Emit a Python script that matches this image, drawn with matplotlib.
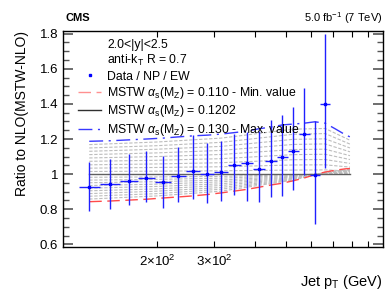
import matplotlib
matplotlib.use('Agg')
import matplotlib.pyplot as plt
from matplotlib.lines import Line2D
from matplotlib.ticker import FixedLocator, NullFormatter, MultipleLocator
import numpy as np

plt.rcParams['font.family'] = ['Liberation Sans', 'DejaVu Sans']
plt.rcParams['mathtext.fontset'] = 'custom'
plt.rcParams['mathtext.rm'] = 'Liberation Sans'
plt.rcParams['mathtext.it'] = 'Liberation Sans:italic'
plt.rcParams['mathtext.bf'] = 'Liberation Sans:bold'

## data: jet pT bins and ratio data / NP / EW
bin_edges = [114, 133, 153, 174, 196, 220, 245, 272, 300, 330, 362, 395,
             430, 468, 507, 548, 592, 638, 686]
ratio = [0.928, 0.941, 0.962, 0.977, 0.953, 0.990, 1.017, 0.998, 1.013,
         1.053, 1.065, 1.031, 1.076, 1.095, 1.132, 1.226, 0.994, 1.402]
ratio_hi = [1.070, 1.084, 1.112, 1.131, 1.106, 1.152, 1.222, 1.178, 1.190,
            1.227, 1.240, 1.244, 1.307, 1.339, 1.382, 1.493, 1.303, 1.800]
ratio_lo = [0.790, 0.800, 0.822, 0.839, 0.809, 0.844, 0.856, 0.837, 0.847,
            0.881, 0.847, 0.840, 0.871, 0.875, 0.909, 0.995, 0.714, 1.034]

## theory curves
theory_pt = [123, 143, 163, 185, 208, 232, 258, 286, 315, 345, 378, 412,
             449, 487, 527, 570, 615, 662, 711, 763, 790]
mstw_110 = [0.843, 0.847, 0.852, 0.857, 0.864, 0.870, 0.876, 0.884, 0.893,
            0.903, 0.913, 0.925, 0.938, 0.948, 0.962, 0.978, 0.997, 1.012,
            1.022, 1.030, 1.032]
mstw_1202 = [1.0, 1.0, 1.0, 1.0, 1.0, 1.0, 1.0, 1.0, 1.0, 1.0, 1.0, 1.0,
             1.0, 1.0, 1.0, 1.0, 1.0, 1.0, 1.0, 1.0, 1.0]
mstw_130 = [1.187, 1.190, 1.195, 1.200, 1.205, 1.212, 1.218, 1.222, 1.228,
            1.236, 1.245, 1.258, 1.268, 1.280, 1.285, 1.290, 1.298, 1.290,
            1.258, 1.225, 1.212]

# intermediate alpha_s values (0.111 ... 0.129), read at a few pT nodes
gray_pt = [123, 200, 315, 527, 662, 790]
gray_vals = [
    [0.858, 0.876, 0.903, 0.966, 1.011, 1.027],
    [0.874, 0.889, 0.914, 0.969, 1.010, 1.024],
    [0.889, 0.903, 0.924, 0.973, 1.008, 1.021],
    [0.905, 0.916, 0.935, 0.977, 1.007, 1.018],
    [0.920, 0.930, 0.945, 0.981, 1.006, 1.015],
    [0.935, 0.943, 0.956, 0.984, 1.005, 1.012],
    [0.951, 0.957, 0.966, 0.988, 1.004, 1.009],
    [0.966, 0.970, 0.977, 0.992, 1.003, 1.006],
    [0.982, 0.984, 0.987, 0.996, 1.001, 1.003],
    [1.015, 1.017, 1.019, 1.023, 1.024, 1.018],
    [1.034, 1.038, 1.042, 1.052, 1.053, 1.040],
    [1.053, 1.058, 1.065, 1.082, 1.083, 1.061],
    [1.073, 1.079, 1.088, 1.111, 1.113, 1.083],
    [1.092, 1.100, 1.112, 1.140, 1.142, 1.105],
    [1.111, 1.121, 1.135, 1.169, 1.172, 1.127],
    [1.130, 1.142, 1.158, 1.198, 1.201, 1.149],
    [1.149, 1.162, 1.181, 1.227, 1.231, 1.171],
    [1.168, 1.183, 1.205, 1.256, 1.260, 1.193],
]

fig = plt.figure(figsize=(3.9, 3.02), dpi=100)
ax = fig.add_axes([63/390, 1-247/302, 320/390, 216/302])

for row in gray_vals:
    ax.plot(gray_pt, row, color='#bdbdbd', lw=0.8, dashes=(3, 1.5))

ax.plot(theory_pt, mstw_110, color='#ff4a4a', lw=1.0, dashes=(9, 4))
ax.plot(theory_pt, mstw_1202, color='#606060', lw=1.0)
ax.plot(theory_pt, mstw_130, color='#3838ff', lw=1.0, dashes=(10, 4, 1.5, 4))

edges = np.array(bin_edges, dtype=float)
centers = np.sqrt(edges[:-1] * edges[1:])
r = np.array(ratio)
yerr = [r - np.array(ratio_lo), np.array(ratio_hi) - r]
xerr = [centers - edges[:-1], edges[1:] - centers]
ax.errorbar(centers, r, xerr=xerr, yerr=yerr, fmt='s', ms=1.6, color='#0000ff',
            ecolor='#2020ff', elinewidth=1.0, capsize=0)

ax.set_xscale('log')
ax.set_xlim(102, 1000)
ax.set_ylim(0.585, 1.815)
ax.xaxis.set_major_locator(FixedLocator([200, 300]))
ax.set_xticklabels([r'$2{\times}10^{2}$', r'$3{\times}10^{2}$'])
ax.xaxis.set_minor_locator(FixedLocator([400, 500, 600, 700, 800, 900]))
ax.xaxis.set_minor_formatter(NullFormatter())
ax.yaxis.set_major_locator(MultipleLocator(0.2))
ax.yaxis.set_minor_locator(MultipleLocator(0.05))
ax.set_yticks([0.6, 0.8, 1.0, 1.2, 1.4, 1.6, 1.8])
ax.set_yticklabels(['0.6', '0.8', '1', '1.2', '1.4', '1.6', '1.8'])
ax.tick_params(which='both', direction='in', top=True, right=True, labelsize=9.5)
ax.tick_params(axis='y', which='major', length=7, width=1.2, color='#555555')
ax.tick_params(axis='y', which='minor', length=4, width=1.0, color='#555555')
ax.tick_params(axis='x', which='both', length=4, width=0.8)
ax.tick_params(axis='x', pad=5)
for s in ax.spines.values():
    s.set_linewidth(1.0)

handles = [Line2D([], [], color='none'), Line2D([], [], color='none'),
           Line2D([], [], ls='none', marker='s', ms=1.6, color='#0000ff'),
           Line2D([], [], color='#ff9090', lw=1.0, dashes=(9, 4)),
           Line2D([], [], color='#303030', lw=1.0),
           Line2D([], [], color='#3838ff', lw=1.0, dashes=(10, 4, 1.5, 4))]
labels = ['2.0<|y|<2.5', r'anti-k$_{\mathrm{T}}$ R = 0.7', 'Data / NP / EW',
          r'MSTW $\alpha_{\mathrm{s}}(\mathrm{M}_{\mathrm{Z}})$ = 0.110 - Min. value',
          r'MSTW $\alpha_{\mathrm{s}}(\mathrm{M}_{\mathrm{Z}})$ = 0.1202',
          r'MSTW $\alpha_{\mathrm{s}}(\mathrm{M}_{\mathrm{Z}})$ = 0.130 - Max. value']
ax.legend(handles, labels, loc='upper left', bbox_to_anchor=(0.047, 0.965),
          frameon=False, fontsize=8.8, handlelength=1.9, handletextpad=0.5,
          labelspacing=0.2, borderpad=0, borderaxespad=0)

fig.text(65/390, 1-18/302, 'CMS', fontsize=8, fontweight='bold', va='center')
fig.text(383/390, 1-18/302, r'5.0 fb$^{-1}$ (7 TeV)', fontsize=8,
         ha='right', va='center')
fig.text(383/390, 1-282/302, r'Jet p$_{\mathrm{T}}$ (GeV)', fontsize=10.5,
         ha='right', va='center')
fig.text(22/390, 1-31/302, 'Ratio to NLO(MSTW-NLO)', fontsize=10,
         rotation=90, ha='center', va='top')

plt.savefig('out.png', dpi=100)
